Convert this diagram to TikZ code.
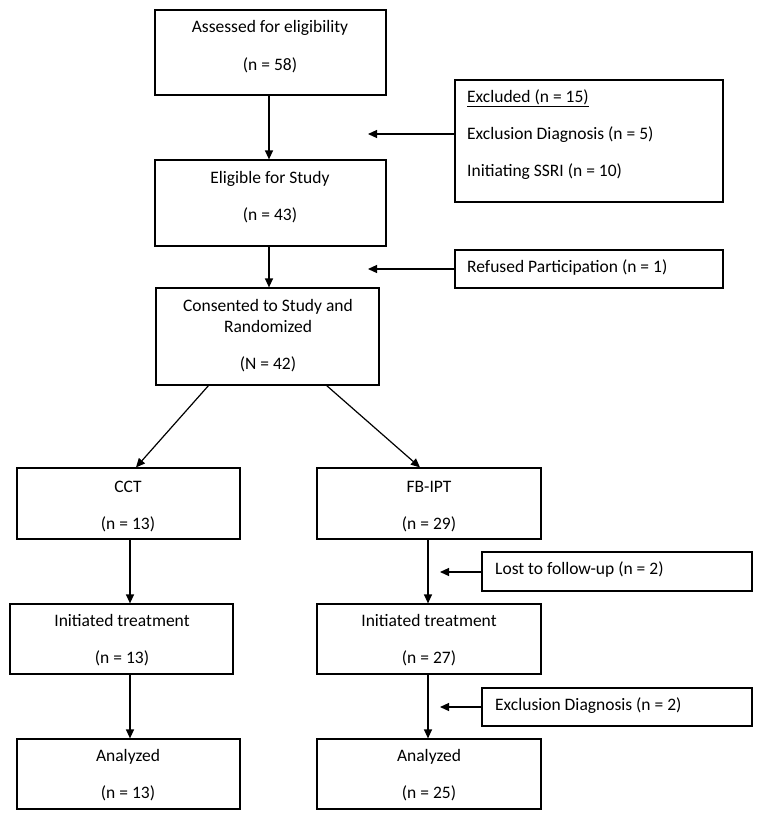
\documentclass[tikz,border=0pt]{standalone}
\usepackage{fontspec}
\setmainfont{Carlito}
\usetikzlibrary{arrows.meta}
\begin{document}
\begin{tikzpicture}[x=1pt,y=-1pt,
  box/.style={draw, line width=1.2pt, rectangle, inner sep=0pt},
  txt/.style={anchor=base, inner sep=0pt, font=\fontsize{17.5}{20}\selectfont},
  ltxt/.style={anchor=base west, inner sep=0pt, font=\fontsize{17.5}{20}\selectfont},
  arr/.style={line width=1.2pt, -{Triangle[length=9pt,width=8pt]}},
  ln/.style={line width=1.2pt}]
\useasboundingbox (0,0) rectangle (762,820);
% box helper: \boxat{name}{x1}{y1}{x2}{y2}
\newcommand{\boxat}[5]{\node[box, minimum width={#4-#2}, minimum height={#5-#3}] (#1) at ({(#2+#4)/2},{(#3+#5)/2}) {};}
\boxat{ass}{155}{10}{386}{95}
\boxat{eli}{155}{160}{386}{246}
\boxat{exc}{455}{80}{723}{202}
\boxat{ref}{455}{250}{723}{288}
\boxat{con}{156}{288}{379}{385}
\boxat{cct}{17}{468}{240}{539}
\boxat{fb}{317}{468}{541}{539}
\boxat{lost}{482}{552}{752}{591}
\boxat{ict}{10}{604}{233}{674}
\boxat{ifb}{317}{604}{541}{674}
\boxat{exd}{482}{688}{752}{726}
\boxat{act}{17}{739}{240}{809}
\boxat{afb}{317}{739}{541}{809}
% texts
\node[txt] (t1a) at (270,32) {Assessed for eligibility};
\node[txt] (t1b) at (270,70) {(n = 58)};
\node[txt] (t2a) at (270,183) {Eligible for Study};
\node[txt] (t2b) at (270,220) {(n = 43)};
\node[ltxt] (t3a) at (467,102) {\underline{Excluded (n = 15)}};
\node[ltxt] (t3b) at (467,139) {Exclusion Diagnosis (n = 5)};
\node[ltxt] (t3c) at (467,176) {Initiating SSRI (n = 10)};
\node[ltxt] (t4) at (467,272) {Refused Participation (n = 1)};
\node[txt] (t5a) at (268,311) {Consented to Study and};
\node[txt] (t5b) at (268,332) {Randomized};
\node[txt] (t5c) at (268,369) {(N = 42)};
\node[txt] (t6a) at (128,492) {CCT};
\node[txt] (t6b) at (128,529) {(n = 13)};
\node[txt] (t7a) at (429,492) {FB-IPT};
\node[txt] (t7b) at (429,529) {(n = 29)};
\node[ltxt] (t8) at (495,574) {Lost to follow-up (n = 2)};
\node[txt] (t9a) at (122,626) {Initiated treatment};
\node[txt] (t9b) at (122,663) {(n = 13)};
\node[txt] (t10a) at (429,626) {Initiated treatment};
\node[txt] (t10b) at (429,663) {(n = 27)};
\node[ltxt] (t11) at (495,710) {Exclusion Diagnosis (n = 2)};
\node[txt] (t12a) at (128,761) {Analyzed};
\node[txt] (t12b) at (128,798) {(n = 13)};
\node[txt] (t13a) at (429,761) {Analyzed};
\node[txt] (t13b) at (429,798) {(n = 25)};
% connectors
\draw[arr] (ass.south -| 269,0) -- (eli.north -| 269,0);
\draw[arr] (eli.south -| 269,0) -- (con.north -| 269,0);
\coordinate (e1) at (368,134);
\coordinate (e2) at (368,269);
\draw[arr] (e1 -| exc.west) -- (e1);
\draw[arr] (e2 -| ref.west) -- (e2);
\coordinate (c1) at (209,385);
\coordinate (c2) at (326,385);
\draw[arr] (c1) -- (136,468 |- cct.north);
\draw[arr] (c2) -- (420,468 |- fb.north);
\draw[arr] (cct.south -| 130,0) -- (ict.north -| 130,0);
\draw[arr] (ict.south -| 130,0) -- (act.north -| 130,0);
\draw[arr] (fb.south -| 428,0) -- (ifb.north -| 428,0);
\draw[arr] (ifb.south -| 428,0) -- (afb.north -| 428,0);
\coordinate (l1) at (440,572);
\coordinate (l2) at (440,707);
\draw[arr] (l1 -| lost.west) -- (l1);
\draw[arr] (l2 -| exd.west) -- (l2);
\end{tikzpicture}
\end{document}
